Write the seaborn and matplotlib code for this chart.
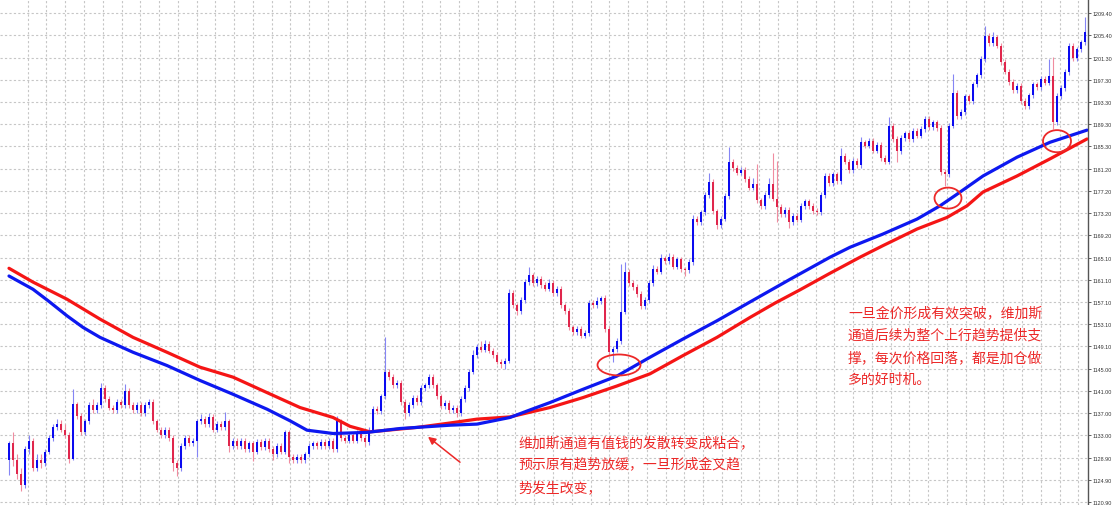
import matplotlib
matplotlib.use("Agg")
import matplotlib.pyplot as plt
import numpy as np
import pandas as pd
import seaborn as sns
from matplotlib.patches import Ellipse

# candle data (one bar per index)
opens = [
    1128.5, 1131.5, 1128.5, 1126.0, 1124.0, 1130.5, 1132.0, 1127.0, 1128.5, 1128.0,
    1130.0, 1132.5, 1134.5, 1135.0, 1134.0, 1133.0, 1128.7, 1138.6, 1136.5, 1133.6,
    1135.5, 1138.5, 1137.5, 1138.5, 1141.5, 1139.5, 1138.0, 1137.5, 1139.0, 1138.5,
    1141.0, 1138.5, 1137.5, 1138.5, 1137.0, 1138.5, 1139.0, 1135.5, 1134.0, 1133.0,
    1134.0, 1132.5, 1128.0, 1127.0, 1131.0, 1132.5, 1131.5, 1132.0, 1135.5, 1136.0,
    1135.0, 1136.3, 1134.0, 1135.0, 1134.5, 1135.5, 1131.0, 1132.0, 1131.0, 1132.0,
    1130.5, 1131.5, 1130.0, 1131.8, 1130.8, 1132.0, 1130.5, 1129.5, 1131.0, 1130.0,
    1133.5, 1129.0, 1128.5, 1129.0, 1128.5, 1129.5, 1131.0, 1131.5, 1131.0, 1131.8,
    1131.0, 1132.0, 1130.5, 1135.5, 1132.5, 1132.0, 1133.0, 1132.0, 1133.5, 1132.5,
    1131.8, 1134.0, 1137.7, 1137.3, 1140.0, 1144.5, 1143.5, 1142.0, 1142.5, 1139.0,
    1137.0, 1138.5, 1139.8, 1139.0, 1141.5, 1142.0, 1143.5, 1142.0, 1140.0, 1138.3,
    1138.8, 1137.5, 1138.0, 1137.0, 1139.5, 1141.5, 1144.5, 1147.5, 1149.0, 1148.5,
    1149.5, 1148.3, 1147.5, 1146.3, 1145.8, 1146.5, 1158.8, 1156.5, 1155.5, 1157.5,
    1160.7, 1161.9, 1160.5, 1161.3, 1160.2, 1159.5, 1160.5, 1158.7, 1159.5, 1156.5,
    1155.5, 1152.5, 1151.6, 1152.2, 1151.0, 1151.5, 1157.0, 1156.6, 1157.3, 1157.8,
    1152.2, 1148.0, 1148.6, 1150.0, 1155.3, 1162.5, 1160.5, 1159.8, 1158.5, 1156.4,
    1157.5, 1160.5, 1163.1, 1162.6, 1165.0, 1164.5, 1165.3, 1163.5, 1164.8, 1163.0,
    1162.8, 1164.3, 1172.1, 1171.5, 1173.3, 1176.5, 1178.8, 1173.5, 1171.0, 1172.2,
    1176.3, 1182.4, 1181.3, 1180.5, 1181.0, 1179.4, 1177.8, 1178.5, 1175.5, 1174.5,
    1176.5, 1178.5, 1175.8, 1174.3, 1173.0, 1173.8, 1171.5, 1172.7, 1172.0, 1174.5,
    1175.3, 1174.5, 1173.6, 1173.3, 1176.5, 1179.9, 1178.6, 1180.2, 1179.0, 1183.6,
    1182.5, 1181.0, 1182.7, 1181.8, 1186.0, 1185.4, 1186.3, 1184.5, 1185.5, 1183.2,
    1182.5, 1189.0, 1186.6, 1184.4, 1186.8, 1187.6, 1186.6, 1188.0, 1187.2, 1188.4,
    1190.2, 1188.8, 1189.6, 1188.6, 1180.6, 1180.2, 1189.0, 1195.0, 1190.8, 1191.5,
    1194.3, 1193.5, 1196.5, 1198.1, 1201.1, 1205.3, 1204.0, 1205.0, 1203.5, 1200.5,
    1198.8, 1196.9, 1195.5, 1196.2, 1193.5, 1192.6, 1194.5, 1196.5, 1196.0, 1197.5,
    1196.8, 1198.0, 1189.6, 1194.4, 1195.8, 1198.7, 1203.5, 1201.2, 1202.8, 1204.1,
]
highs = [
    1132.0, 1133.5, 1129.5, 1127.0, 1131.0, 1133.0, 1132.5, 1129.5, 1129.5, 1130.5,
    1133.0, 1135.0, 1136.0, 1135.8, 1135.0, 1133.5, 1141.4, 1139.0, 1137.0, 1136.0,
    1139.0, 1139.5, 1139.0, 1142.5, 1142.0, 1140.0, 1138.5, 1139.5, 1139.5, 1142.3,
    1141.5, 1139.0, 1139.0, 1139.0, 1139.0, 1139.5, 1139.5, 1136.0, 1134.5, 1134.5,
    1134.5, 1133.0, 1128.5, 1131.5, 1133.0, 1133.0, 1132.5, 1136.0, 1136.8, 1136.5,
    1137.0, 1136.8, 1135.5, 1135.5, 1137.2, 1136.0, 1132.5, 1132.5, 1132.5, 1132.5,
    1132.0, 1132.0, 1132.3, 1132.3, 1132.5, 1132.5, 1131.0, 1131.5, 1131.5, 1134.0,
    1134.0, 1129.5, 1129.5, 1129.5, 1130.0, 1131.5, 1132.0, 1132.0, 1132.3, 1132.3,
    1132.5, 1132.5, 1136.5, 1136.0, 1133.0, 1133.5, 1133.5, 1134.0, 1134.0, 1133.0,
    1134.5, 1138.2, 1138.2, 1140.5, 1150.8, 1145.0, 1144.0, 1143.0, 1143.0, 1139.5,
    1139.0, 1140.3, 1140.3, 1142.0, 1142.5, 1144.0, 1144.0, 1142.5, 1140.5, 1139.3,
    1139.3, 1138.5, 1138.5, 1140.0, 1142.0, 1145.0, 1148.5, 1149.5, 1150.0, 1150.2,
    1150.0, 1148.8, 1148.0, 1146.8, 1147.0, 1159.5, 1159.3, 1157.0, 1158.0, 1161.2,
    1163.4, 1162.4, 1161.8, 1161.8, 1160.7, 1161.2, 1161.0, 1160.0, 1160.0, 1157.0,
    1156.0, 1153.0, 1152.7, 1152.7, 1152.0, 1157.5, 1157.5, 1158.0, 1158.2, 1158.3,
    1152.7, 1149.1, 1150.5, 1164.0, 1164.3, 1163.0, 1161.0, 1160.3, 1159.0, 1158.0,
    1161.0, 1163.8, 1163.6, 1165.8, 1165.5, 1166.0, 1165.8, 1165.3, 1165.3, 1163.5,
    1164.8, 1172.8, 1172.6, 1173.8, 1177.0, 1180.5, 1179.3, 1174.0, 1172.7, 1176.8,
    1185.1, 1182.9, 1181.8, 1181.5, 1181.5, 1179.9, 1179.5, 1182.0, 1176.0, 1177.0,
    1179.5, 1184.0, 1182.7, 1174.8, 1174.3, 1174.3, 1173.2, 1173.2, 1175.0, 1175.8,
    1175.8, 1175.0, 1174.1, 1177.0, 1180.4, 1180.4, 1180.7, 1180.7, 1185.0, 1184.1,
    1183.0, 1183.2, 1183.2, 1187.0, 1186.5, 1186.8, 1186.8, 1186.0, 1186.0, 1183.7,
    1190.5, 1189.5, 1187.1, 1187.3, 1188.1, 1188.1, 1188.5, 1188.5, 1188.9, 1190.8,
    1190.7, 1190.1, 1190.1, 1189.1, 1181.1, 1189.5, 1198.4, 1195.5, 1192.0, 1194.8,
    1194.8, 1197.0, 1198.6, 1201.6, 1207.1, 1205.8, 1206.0, 1205.5, 1204.0, 1201.0,
    1199.3, 1197.4, 1196.7, 1196.7, 1194.0, 1195.0, 1197.0, 1197.0, 1198.0, 1198.0,
    1201.0, 1201.4, 1194.9, 1196.3, 1199.2, 1204.0, 1204.0, 1203.3, 1204.6, 1208.6,
]
lows = [
    1125.8, 1127.5, 1125.0, 1122.9, 1123.5, 1129.5, 1126.5, 1126.5, 1127.0, 1127.5,
    1129.5, 1132.0, 1134.0, 1133.5, 1132.5, 1128.0, 1128.5, 1136.0, 1133.0, 1133.0,
    1135.0, 1137.0, 1137.0, 1138.0, 1139.0, 1137.5, 1137.0, 1137.0, 1138.0, 1138.0,
    1138.0, 1137.0, 1137.0, 1136.5, 1136.5, 1138.0, 1135.0, 1133.5, 1132.5, 1132.5,
    1132.0, 1126.5, 1125.6, 1126.5, 1130.5, 1131.0, 1131.0, 1129.0, 1135.0, 1134.5,
    1134.5, 1133.5, 1133.5, 1134.0, 1134.0, 1130.0, 1130.5, 1130.5, 1130.5, 1130.0,
    1130.0, 1128.3, 1129.5, 1130.3, 1130.3, 1130.0, 1128.5, 1129.0, 1129.5, 1129.5,
    1128.0, 1128.0, 1128.0, 1128.0, 1128.0, 1129.0, 1130.5, 1130.5, 1130.5, 1130.5,
    1130.5, 1130.0, 1130.0, 1132.0, 1131.5, 1131.5, 1131.5, 1131.5, 1132.0, 1131.0,
    1131.3, 1133.5, 1136.8, 1136.8, 1139.5, 1143.0, 1141.5, 1141.5, 1138.5, 1136.0,
    1136.5, 1138.0, 1138.5, 1138.5, 1141.0, 1141.5, 1141.5, 1139.5, 1137.8, 1137.8,
    1137.0, 1137.0, 1136.3, 1136.5, 1139.0, 1141.0, 1144.0, 1147.0, 1148.0, 1148.0,
    1147.8, 1147.0, 1145.8, 1145.2, 1145.0, 1146.0, 1156.0, 1154.8, 1155.0, 1157.0,
    1160.2, 1160.0, 1160.0, 1159.7, 1159.0, 1159.0, 1158.2, 1158.2, 1156.0, 1155.0,
    1152.0, 1151.1, 1151.1, 1150.5, 1150.5, 1151.0, 1156.1, 1156.1, 1156.8, 1151.7,
    1147.5, 1146.2, 1148.1, 1149.5, 1155.0, 1160.0, 1159.3, 1158.0, 1155.8, 1155.9,
    1157.0, 1160.0, 1162.1, 1162.1, 1164.0, 1164.0, 1163.0, 1163.0, 1162.5, 1161.8,
    1162.3, 1163.8, 1171.0, 1171.0, 1172.8, 1176.0, 1173.0, 1170.3, 1170.5, 1171.7,
    1175.8, 1180.8, 1180.0, 1180.0, 1178.9, 1177.3, 1177.3, 1175.0, 1174.0, 1174.0,
    1176.0, 1175.3, 1171.5, 1172.5, 1172.5, 1170.5, 1171.0, 1171.5, 1171.5, 1174.0,
    1174.0, 1173.1, 1172.8, 1172.8, 1176.0, 1178.1, 1178.1, 1178.5, 1178.5, 1182.0,
    1180.5, 1180.5, 1181.3, 1181.3, 1184.9, 1184.9, 1184.0, 1184.0, 1182.7, 1182.0,
    1182.0, 1186.1, 1182.4, 1183.9, 1186.3, 1186.1, 1186.1, 1186.7, 1186.7, 1187.9,
    1188.3, 1188.3, 1188.1, 1180.0, 1178.1, 1179.7, 1188.5, 1190.3, 1190.3, 1191.0,
    1193.0, 1193.0, 1196.0, 1197.6, 1200.6, 1203.5, 1203.5, 1203.0, 1200.0, 1198.3,
    1196.4, 1195.0, 1195.0, 1193.0, 1192.0, 1192.1, 1194.0, 1195.5, 1195.5, 1196.3,
    1196.3, 1188.4, 1189.1, 1193.9, 1195.3, 1198.2, 1200.7, 1200.7, 1202.3, 1203.6,
]
closes = [
    1131.5, 1128.5, 1126.0, 1124.0, 1130.5, 1132.0, 1127.0, 1128.5, 1128.0, 1130.0,
    1132.5, 1134.5, 1135.0, 1134.0, 1133.0, 1128.7, 1138.6, 1136.5, 1133.6, 1135.5,
    1138.5, 1137.5, 1138.5, 1141.5, 1139.5, 1138.0, 1137.5, 1139.0, 1138.5, 1141.0,
    1138.5, 1137.5, 1138.5, 1137.0, 1138.5, 1139.0, 1135.5, 1134.0, 1133.0, 1134.0,
    1132.5, 1128.0, 1127.0, 1131.0, 1132.5, 1131.5, 1132.0, 1135.5, 1136.0, 1135.0,
    1136.3, 1134.0, 1135.0, 1134.5, 1135.5, 1131.0, 1132.0, 1131.0, 1132.0, 1130.5,
    1131.5, 1130.0, 1131.8, 1130.8, 1132.0, 1130.5, 1129.5, 1131.0, 1130.0, 1133.5,
    1129.0, 1128.5, 1129.0, 1128.5, 1129.5, 1131.0, 1131.5, 1131.0, 1131.8, 1131.0,
    1132.0, 1130.5, 1135.5, 1132.5, 1132.0, 1133.0, 1132.0, 1133.5, 1132.5, 1131.8,
    1134.0, 1137.7, 1137.3, 1140.0, 1144.5, 1143.5, 1142.0, 1142.5, 1139.0, 1137.0,
    1138.5, 1139.8, 1139.0, 1141.5, 1142.0, 1143.5, 1142.0, 1140.0, 1138.3, 1138.8,
    1137.5, 1138.0, 1137.0, 1139.5, 1141.5, 1144.5, 1147.5, 1149.0, 1148.5, 1149.5,
    1148.3, 1147.5, 1146.3, 1145.8, 1146.5, 1158.8, 1156.5, 1155.5, 1157.5, 1160.7,
    1161.9, 1160.5, 1161.3, 1160.2, 1159.5, 1160.5, 1158.7, 1159.5, 1156.5, 1155.5,
    1152.5, 1151.6, 1152.2, 1151.0, 1151.5, 1157.0, 1156.6, 1157.3, 1157.8, 1152.2,
    1148.0, 1148.6, 1150.0, 1155.3, 1162.5, 1160.5, 1159.8, 1158.5, 1156.4, 1157.5,
    1160.5, 1163.1, 1162.6, 1165.0, 1164.5, 1165.3, 1163.5, 1164.8, 1163.0, 1162.8,
    1164.3, 1172.1, 1171.5, 1173.3, 1176.5, 1178.8, 1173.5, 1171.0, 1172.2, 1176.3,
    1182.4, 1181.3, 1180.5, 1181.0, 1179.4, 1177.8, 1178.5, 1175.5, 1174.5, 1176.5,
    1178.5, 1175.8, 1174.3, 1173.0, 1173.8, 1171.5, 1172.7, 1172.0, 1174.5, 1175.3,
    1174.5, 1173.6, 1173.3, 1176.5, 1179.9, 1178.6, 1180.2, 1179.0, 1183.6, 1182.5,
    1181.0, 1182.7, 1181.8, 1186.0, 1185.4, 1186.3, 1184.5, 1185.5, 1183.2, 1182.5,
    1189.0, 1186.6, 1184.4, 1186.8, 1187.6, 1186.6, 1188.0, 1187.2, 1188.4, 1190.2,
    1188.8, 1189.6, 1188.6, 1180.6, 1180.2, 1189.0, 1195.0, 1190.8, 1191.5, 1194.3,
    1193.5, 1196.5, 1198.1, 1201.1, 1205.3, 1204.0, 1205.0, 1203.5, 1200.5, 1198.8,
    1196.9, 1195.5, 1196.2, 1193.5, 1192.6, 1194.5, 1196.5, 1196.0, 1197.5, 1196.8,
    1198.0, 1189.6, 1194.4, 1195.8, 1198.7, 1203.5, 1201.2, 1202.8, 1204.1, 1205.9,
]

# moving averages sampled along the bar index
ma_blue_x = [0, 6, 10, 14.5, 18.5, 22.75, 31, 39.5, 47.75, 56, 64.5, 70.25, 74.5, 81,
             89.5, 97.75, 110.25, 117, 125.25, 130, 135.25, 143.5, 152, 160.25, 168.5,
             177, 185.25, 195.25, 205.25, 210.25, 218.5, 227, 232.75, 237, 243.5, 252,
             260.25, 269.5]
ma_blue_y = [1161.8, 1159.4, 1157.2, 1154.6, 1152.5, 1150.7, 1148.0, 1145.6, 1142.9,
             1140.4, 1137.7, 1135.6, 1133.9, 1133.3, 1133.5, 1134.2, 1134.8, 1135.0,
             1136.2, 1137.5, 1138.9, 1141.3, 1143.7, 1147.1, 1150.4, 1153.7, 1157.1,
             1161.2, 1165.2, 1167.0, 1169.4, 1172.1, 1174.5, 1176.6, 1179.9, 1183.3,
             1186.0, 1188.2]
ma_red_x = [0, 6, 14.5, 22.75, 31, 39.5, 47.75, 56, 64.5, 72.75, 81, 85.25, 90.25, 102,
            110.25, 117, 125.25, 135.25, 143.5, 152, 160.25, 168.5, 177, 185.25, 191.5,
            197.75, 205, 212.75, 218.5, 227, 234.5, 239.5, 243.5, 252, 260.25, 269.5]
ma_red_y = [1163.2, 1160.7, 1157.6, 1154.0, 1150.7, 1148.0, 1145.3, 1143.5, 1140.7,
            1138.0, 1136.2, 1134.6, 1133.6, 1134.4, 1135.2, 1135.9, 1136.3, 1138.0,
            1139.8, 1141.9, 1144.1, 1147.4, 1150.7, 1154.3, 1156.9, 1159.3, 1162.2,
            1165.2, 1167.3, 1170.3, 1172.4, 1174.5, 1177.0, 1179.9, 1183.0, 1186.6]

price_ticks = [1120.90, 1124.90, 1128.90, 1133.00, 1137.00, 1141.00, 1145.00, 1149.10,
               1153.10, 1157.10, 1161.10, 1165.10, 1169.20, 1173.20, 1177.20, 1181.20,
               1185.30, 1189.30, 1193.30, 1197.30, 1201.30, 1205.40, 1209.40]

note_cross = ["维加斯通道有值钱的发散转变成粘合，",
              "预示原有趋势放缓，一旦形成金叉趋",
              "势发生改变，"]
note_support = ["一旦金价形成有效突破，维加斯",
                "通道后续为整个上行趋势提供支",
                "撑，每次价格回落，都是加仓做",
                "多的好时机。"]

sns.set_style("white")
plt.rcParams["font.family"] = ["Noto Sans CJK SC", "DejaVu Sans"]

bars = pd.DataFrame({"open": opens, "high": highs, "low": lows, "close": closes})
bars["idx"] = np.arange(len(bars))
up = bars["close"] >= bars["open"]

W, H = 1113, 506
fig = plt.figure(figsize=(W / 100, H / 100), dpi=100)
ax = fig.add_axes([0, 0, 1088 / W, 1])

UP_BODY, DN_BODY = "#0a0af0", "#e0264c"
UP_WICK, DN_WICK = "#8585f5", "#f08ca0"

# wicks
ax.vlines(bars.loc[up, "idx"], bars.loc[up, "low"], bars.loc[up, "high"],
          color=UP_WICK, lw=0.8, zorder=2)
ax.vlines(bars.loc[~up, "idx"], bars.loc[~up, "low"], bars.loc[~up, "high"],
          color=DN_WICK, lw=0.8, zorder=2)
# bodies
body_lo = bars[["open", "close"]].min(axis=1)
body_h = (bars["close"] - bars["open"]).abs().clip(lower=0.15)
ax.bar(bars.loc[up, "idx"], body_h[up], bottom=body_lo[up], width=0.62,
       color=UP_BODY, linewidth=0, zorder=3)
ax.bar(bars.loc[~up, "idx"], body_h[~up], bottom=body_lo[~up], width=0.62,
       color=DN_BODY, linewidth=0, zorder=3)

# Vegas channel lines
sns.lineplot(x=ma_red_x, y=ma_red_y, color="#f51515", lw=2.3, ax=ax,
             legend=False, zorder=4)
sns.lineplot(x=ma_blue_x, y=ma_blue_y, color="#0d18f0", lw=2.3, ax=ax,
             legend=False, zorder=5)

ax.set_xlim(-2.25, 269.75)
ax.set_ylim(1120.36, 1211.93)

# grid
ax.set_xticks(np.arange(4.675, 270, 4.69))
ax.set_yticks(price_ticks)
ax.set_yticklabels([f"{v:.2f}" for v in price_ticks])
ax.grid(True, color="#c6c6c6", lw=0.8, linestyle=(0, (2, 2)))
ax.set_axisbelow(True)
ax.tick_params(axis="x", length=0, labelbottom=False)
ax.yaxis.tick_right()
ax.tick_params(axis="y", length=2.2, width=0.6, color="#444444", pad=0.8,
               labelsize=3.9, labelcolor="#333333")
for lab in ax.get_yticklabels():
    lab.set_family("Liberation Sans")
for side in ["left", "top", "bottom"]:
    ax.spines[side].set_visible(False)
ax.spines["right"].set_color("#555555")
ax.spines["right"].set_linewidth(1.0)

# highlight circles and arrow
NOTE_RED = "#ec2828"
for (cx, cy, ew, eh) in [(152.5, 1145.7, 10.75, 3.8), (234.75, 1175.9, 6.75, 3.8),
                         (262.0, 1186.2, 7.0, 4.0)]:
    ax.add_patch(Ellipse((cx, cy), ew, eh, fill=False, edgecolor=NOTE_RED,
                         lw=1.3, zorder=6))
ax.annotate("", xy=(104.75, 1132.7), xytext=(112.75, 1128.1),
            arrowprops=dict(arrowstyle="-|>", color=NOTE_RED, lw=1.1,
                            mutation_scale=11, shrinkA=0, shrinkB=0), zorder=6)

for k, line in enumerate(note_cross):
    fig.text(518 / W, 1 - (443 + 22.5 * k) / H, line, color=NOTE_RED,
             fontsize=10, ha="left", va="center")
for k, line in enumerate(note_support):
    fig.text(848 / W, 1 - (314 + 22 * k) / H, line, color=NOTE_RED,
             fontsize=10, ha="left", va="center")

fig.savefig("out.png", dpi=100)
plt.close(fig)
